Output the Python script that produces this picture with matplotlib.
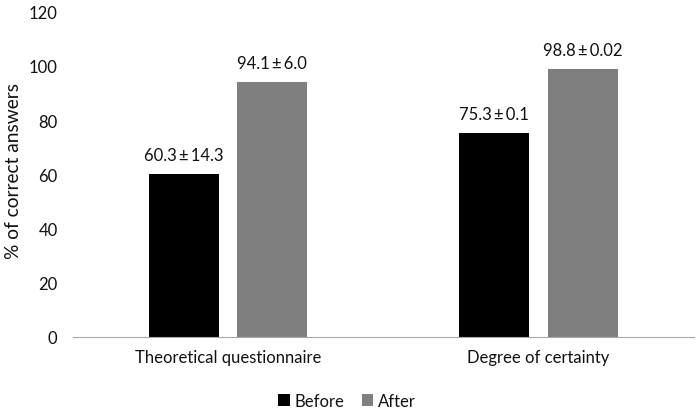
import numpy as np
import matplotlib
matplotlib.use('Agg')
import matplotlib.pyplot as plt

plt.rcParams['font.family'] = ['Lato', 'DejaVu Sans']

categories = ['Theoretical questionnaire', 'Degree of certainty']
before = [60.3, 75.3]
after = [94.1, 98.8]
before_labels = ['60.3\u2009±\u200914.3', '75.3\u2009±\u20090.1']
after_labels = ['94.1\u2009±\u20096.0', '98.8\u2009±\u20090.02']

fig = plt.figure(figsize=(7, 4.14), dpi=100)
ax = fig.add_axes([0.104, 0.184, 0.887, 0.785])

x = np.arange(len(categories))
w = 0.225
gap = 0.06
b1 = ax.bar(x - (w + gap) / 2, before, width=w, color='black', label='Before')
b2 = ax.bar(x + (w + gap) / 2, after, width=w, color='#7f7f7f', label='After')

for bars, labs in ((b1, before_labels), (b2, after_labels)):
    for bar, lab in zip(bars, labs):
        ax.text(bar.get_x() + bar.get_width() / 2, bar.get_height() + 4, lab,
                ha='center', va='bottom', fontsize=12, color='#111111')

ax.set_ylim(0, 120)
ax.set_yticks(range(0, 121, 20))
ax.set_xlim(-0.5, 1.5)
ax.set_xticks(x)
ax.set_xticklabels(categories)
ax.tick_params(axis='both', length=0, labelsize=12, colors='#111111')
ax.tick_params(axis='x', pad=9)
ax.tick_params(axis='y', pad=11)
ax.set_ylabel('% of correct answers', fontsize=13.8, color='#111111')
ax.yaxis.set_label_coords(-0.082, 0.514)
for s in ['top', 'right', 'left']:
    ax.spines[s].set_visible(False)
ax.spines['bottom'].set_color('#a6a6a6')

fig.legend(loc='center', bbox_to_anchor=(0.496, 0.03), ncol=2, frameon=False,
           fontsize=12, handlelength=0.7, handleheight=0.7, handletextpad=0.3,
           columnspacing=1.0, labelcolor='#111111')

fig.savefig('out.png', dpi=100)
